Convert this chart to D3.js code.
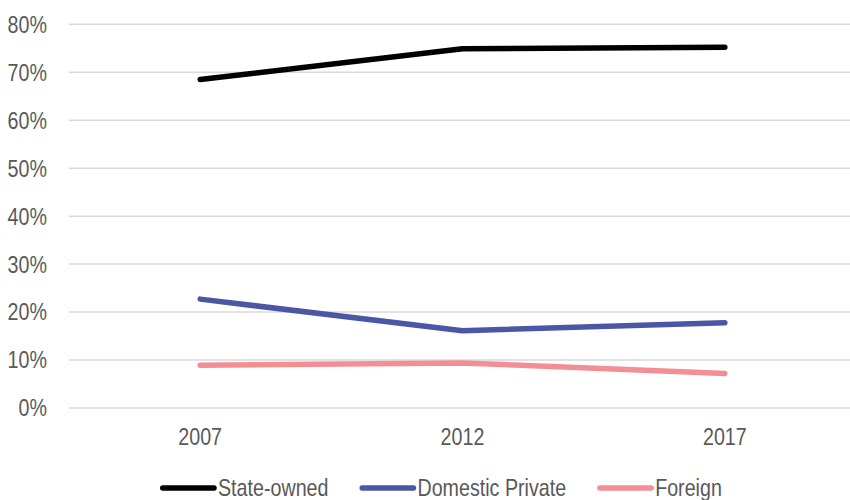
<!DOCTYPE html>
<html>
<head>
<meta charset="utf-8">
<script src="https://cdn.jsdelivr.net/npm/d3@7"></script>
<style>
  body { margin: 0; background: #fff; }
  text { font-family: "Liberation Sans Narrow", "Arial Narrow", "Liberation Sans", sans-serif; fill: #595959; font-size: 24px; }
</style>
</head>
<body>
<script>
var years = ["2007", "2012", "2017"];
var seriesNames = ["State-owned", "Domestic Private", "Foreign"];
var stateOwned = [0.685, 0.749, 0.752];
var domesticPrivate = [0.227, 0.161, 0.178];
var foreign = [0.089, 0.094, 0.072];
var yTicks = [0, 0.1, 0.2, 0.3, 0.4, 0.5, 0.6, 0.7, 0.8];
var colors = ["#000000", "#4b56a4", "#f28e94"];

// no narrow font installed, so squeeze the regular one
var squeeze = 0.82;

var svg = d3.select("body")
    .append("svg")
    .attr("width", "850")
    .attr("height", "500")
    .style("display", "block");

var x = d3.scalePoint()
    .domain(years)
    .range([69, 856])
    .padding(0.5);

var y = d3.scaleLinear()
    .domain([0, 0.8])
    .range([408, 24.3]);

var formatPct = d3.format(".0%");

function place(px, py) {
    return "translate(" + px + "," + py + ") scale(" + squeeze + ",1)";
}

// gridlines
svg.append("g")
    .selectAll("line")
    .data(yTicks)
    .enter()
    .append("line")
    .attr("x1", 69)
    .attr("x2", 856)
    .attr("y1", function(d) { return y(d); })
    .attr("y2", function(d) { return y(d); })
    .attr("stroke", "#d9d9d9")
    .attr("stroke-width", 1.5);

// y labels
svg.append("g")
    .selectAll("text")
    .data(yTicks)
    .enter()
    .append("text")
    .attr("transform", function(d) { return place(47, y(d)); })
    .attr("dy", "0.35em")
    .attr("text-anchor", "end")
    .text(function(d) { return formatPct(d); });

// x labels
svg.append("g")
    .selectAll("text")
    .data(years)
    .enter()
    .append("text")
    .attr("transform", function(d) { return place(x(d), 445); })
    .attr("text-anchor", "middle")
    .text(function(d) { return d; });

var series = [stateOwned, domesticPrivate, foreign];

var line = d3.line()
    .x(function(d, i) { return x(years[i]); })
    .y(function(d) { return y(d); });

svg.append("g")
    .selectAll("path")
    .data(series)
    .enter()
    .append("path")
    .attr("d", line)
    .attr("fill", "none")
    .attr("stroke", function(d, i) { return colors[i]; })
    .attr("stroke-width", 5.5)
    .attr("stroke-linecap", "round")
    .attr("stroke-linejoin", "round");

// legend
var legend = svg.append("g");
var lx = 160;
seriesNames.forEach(function(name, i) {
    legend.append("line")
        .attr("x1", lx + 2.75)
        .attr("x2", lx + 54)
        .attr("y1", 488)
        .attr("y2", 488)
        .attr("stroke", colors[i])
        .attr("stroke-width", 5.5)
        .attr("stroke-linecap", "round");
    var t = legend.append("text")
        .attr("transform", place(lx + 58, 496))
        .text(name);
    lx += 58 + t.node().getComputedTextLength() * squeeze + 31;
});
</script>
</body>
</html>
